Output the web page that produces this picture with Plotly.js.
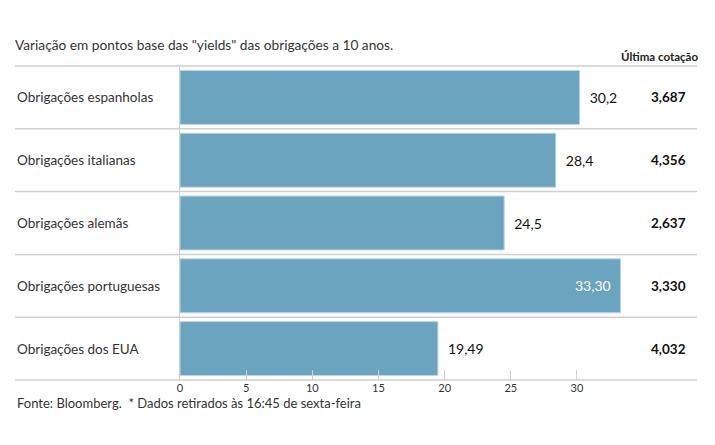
<!DOCTYPE html>
<html>
<head>
<meta charset="utf-8">
<script src="https://cdn.plot.ly/plotly-3.0.1.min.js"></script>
<style>
  html, body { margin: 0; padding: 0; background: #fff; }
  #plot { width: 715px; height: 445px; }
</style>
</head>
<body>
<div id="plot"></div>
<script>
// data
var categories = ['Obrigações espanholas', 'Obrigações italianas', 'Obrigações alemãs', 'Obrigações portuguesas', 'Obrigações dos EUA'];
var values = [30.2, 28.4, 24.5, 33.30, 19.49];
var valueLabels = ['30,2', '28,4', '24,5', '33,30', '19,49'];
var lastQuotes = ['3,687', '4,356', '2,637', '3,330', '4,032'];
var tickValues = [0, 5, 10, 15, 20, 25, 30];

var fontFamily = 'Lato, "Open Sans", sans-serif';
var textColor = '#333';
var lineColor = '#cfcfcf';

// which labels go inside the bar (the portuguese one)
var positions = values.map(function (v, i) { return i === 3 ? 'inside' : 'outside'; });
// a bit of breathing room between bar end and label
var shownLabels = valueLabels.map(function (t, i) {
  return positions[i] === 'inside' ? t + '\u2002' : '\u2002' + t;
});

var trace1 = {
  type: 'bar',
  orientation: 'h',
  y: categories,
  x: values,
  text: shownLabels,
  textposition: positions,
  insidetextanchor: 'end',
  insidetextfont: { color: '#fff', size: 14, family: fontFamily },
  outsidetextfont: { color: '#111', size: 14, family: fontFamily },
  cliponaxis: false,
  hoverinfo: 'none',
  marker: {
    color: 'rgb(106,164,191)',
    line: { color: 'rgba(190,215,228,1)', width: 1 }
  }
};

var annotations = [];
var shapes = [];

// category names on the left and last quote on the right
categories.forEach(function (c, i) {
  annotations.push({
    xref: 'paper', yref: 'y', x: 0, y: c, xanchor: 'left', xshift: 0,
    text: c, showarrow: false,
    font: { size: 13.5, color: textColor, family: fontFamily }
  });
  annotations.push({
    xref: 'paper', yref: 'y', x: 0.984, y: c, xanchor: 'right', xshift: 2,
    text: '<b>' + lastQuotes[i] + '</b>', showarrow: false,
    font: { size: 13.5, color: '#111', family: fontFamily }
  });
});

// header and footer
annotations.push({
  xref: 'paper', yref: 'paper', x: 1, y: 1.029, xanchor: 'right', yanchor: 'middle', xshift: 3,
  text: '<b>Última cotação</b>', showarrow: false,
  font: { size: 11.5, color: '#222', family: fontFamily }
});
annotations.push({
  xref: 'paper', yref: 'paper', x: 0, y: -0.073, xanchor: 'left', yanchor: 'middle',
  text: 'Fonte: Bloomberg.  * Dados retirados às 16:45 de sexta-feira', showarrow: false,
  font: { size: 13, color: textColor, family: fontFamily }
});

// row separators across the full width
for (var k = 0; k <= categories.length; k++) {
  shapes.push({
    type: 'line', xref: 'paper', yref: 'paper',
    x0: 0, x1: 1, y0: k / categories.length, y1: k / categories.length,
    line: { color: lineColor, width: 1.5 }
  });
}

var layout = {
  width: 715,
  height: 445,
  margin: { l: 15, r: 18, t: 66, b: 65 },
  paper_bgcolor: '#fff',
  plot_bgcolor: '#fff',
  showlegend: false,
  bargap: 0.14,
  font: { family: fontFamily, color: textColor },
  title: {
    text: 'Variação em pontos base das "yields" das obrigações a 10 anos.',
    xref: 'container', yref: 'container',
    x: 15 / 715, xanchor: 'left',
    y: 1 - 45 / 445, yanchor: 'middle',
    font: { size: 13.7, color: textColor, family: fontFamily }
  },
  xaxis: {
    domain: [165 / 682, 1],
    range: [0, 39.07],
    tickvals: tickValues,
    ticktext: tickValues.map(String),
    ticks: 'inside',
    ticklen: 10,
    tickcolor: lineColor,
    tickfont: { size: 11, color: textColor, family: fontFamily },
    showgrid: false,
    zeroline: false,
    showline: false,
    fixedrange: true
  },
  yaxis: {
    type: 'category',
    range: [4.5, -0.5],
    showticklabels: false,
    ticks: '',
    showgrid: false,
    zeroline: false,
    showline: true,
    linecolor: lineColor,
    linewidth: 1,
    fixedrange: true
  },
  annotations: annotations,
  shapes: shapes
};

Plotly.newPlot('plot', [trace1], layout, { displayModeBar: false, staticPlot: true });
</script>
</body>
</html>
